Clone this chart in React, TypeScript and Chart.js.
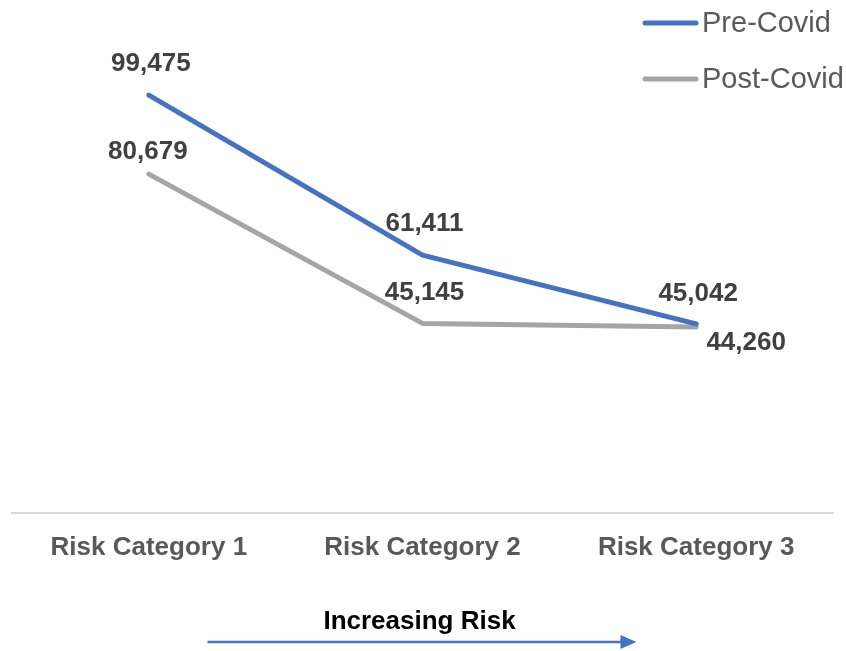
import React, { useEffect, useRef } from "react";
import { Chart, registerables } from "chart.js";

Chart.register(...registerables);

const categories = ["Risk Category 1", "Risk Category 2", "Risk Category 3"];
const preCovid = [99475, 61411, 45042];
const postCovid = [80679, 45145, 44260];
const seriesNames = ["Pre-Covid", "Post-Covid"];
const axisTitle = "Increasing Risk";

const FONT = "'Liberation Sans', Arial, sans-serif";
const BLUE = "#4472C4";
const GRAY = "#A5A5A5";

// label offsets (dx, dy) from each point, per dataset
const labelOffsets = [
  [[2, -31], [2, -31], [2, -30]],
  [[-1, -22], [2, -31], [50, 16]],
];

const fmt = (v: number) => v.toLocaleString("en-US");

const overlayPlugin = {
  id: "overlay",
  afterDatasetsDraw(chart: any) {
    const ctx = chart.ctx;
    ctx.save();
    ctx.font = `bold 26px ${FONT}`;
    ctx.fillStyle = "#404040";
    ctx.textAlign = "center";
    ctx.textBaseline = "middle";
    chart.data.datasets.forEach((ds: any, di: number) => {
      const meta = chart.getDatasetMeta(di);
      meta.data.forEach((pt: any, i: number) => {
        const [dx, dy] = labelOffsets[di][i];
        ctx.fillText(fmt(ds.data[i]), pt.x + dx, pt.y + dy);
      });
    });
    ctx.restore();
  },
  afterDraw(chart: any) {
    const ctx = chart.ctx;
    const area = chart.chartArea;
    ctx.save();
    // legend
    const legendY = [23, 79];
    chart.data.datasets.forEach((ds: any, di: number) => {
      const y = legendY[di];
      ctx.strokeStyle = ds.borderColor;
      ctx.lineWidth = 5;
      ctx.lineCap = "round";
      ctx.beginPath();
      ctx.moveTo(645, y);
      ctx.lineTo(696, y);
      ctx.stroke();
      ctx.font = `29px ${FONT}`;
      ctx.fillStyle = "#595959";
      ctx.textAlign = "left";
      ctx.textBaseline = "middle";
      ctx.fillText(ds.label, 702, y + 1);
    });
    // axis title + arrow
    const cx = (area.left + area.right) / 2;
    ctx.font = `bold 26px ${FONT}`;
    ctx.fillStyle = "#000000";
    ctx.textAlign = "center";
    ctx.textBaseline = "middle";
    ctx.fillText(axisTitle, cx - 3, 622);
    const ay = 642;
    const x0 = cx - 215;
    const x1 = cx + 214;
    ctx.strokeStyle = BLUE;
    ctx.lineWidth = 2.5;
    ctx.lineCap = "butt";
    ctx.beginPath();
    ctx.moveTo(x0, ay);
    ctx.lineTo(x1 - 14, ay);
    ctx.stroke();
    ctx.fillStyle = BLUE;
    ctx.beginPath();
    ctx.moveTo(x1, ay);
    ctx.lineTo(x1 - 16, ay - 7);
    ctx.lineTo(x1 - 16, ay + 7);
    ctx.closePath();
    ctx.fill();
    ctx.restore();
  },
};

export default function App() {
  const ref = useRef<HTMLCanvasElement>(null);
  useEffect(() => {
    if (!ref.current) return;
    const chart = new Chart(ref.current, {
      type: "line",
      data: {
        labels: categories,
        datasets: [
          {
            label: seriesNames[0],
            data: preCovid,
            borderColor: BLUE,
            backgroundColor: BLUE,
            borderWidth: 5,
            borderCapStyle: "round",
            borderJoinStyle: "round",
            pointRadius: 0,
            tension: 0,
          },
          {
            label: seriesNames[1],
            data: postCovid,
            borderColor: GRAY,
            backgroundColor: GRAY,
            borderWidth: 5,
            borderCapStyle: "round",
            borderJoinStyle: "round",
            pointRadius: 0,
            tension: 0,
          },
        ],
      },
      options: {
        responsive: false,
        animation: false,
        layout: { padding: { top: 9, left: 12, right: 13, bottom: 0 } },
        plugins: {
          legend: { display: false },
          tooltip: { enabled: false },
        },
        scales: {
          x: {
            offset: true,
            grid: { display: false, drawTicks: false },
            border: { display: true, color: "#D9D9D9", width: 2 },
            ticks: {
              color: "#595959",
              font: { family: FONT, size: 26, weight: "bold" },
              padding: 19,
              maxRotation: 0,
            },
            afterFit: (s: any) => {
              s.height = 138;
            },
          },
          y: {
            display: false,
            min: 0,
            max: 120000,
          },
        },
      },
      plugins: [overlayPlugin],
    } as any);
    return () => chart.destroy();
  }, []);
  return (
    <div style={{ position: "fixed", left: 0, top: 0, width: 846, height: 651, background: "#fff" }}>
      <canvas ref={ref} width={846} height={651} />
    </div>
  );
}
